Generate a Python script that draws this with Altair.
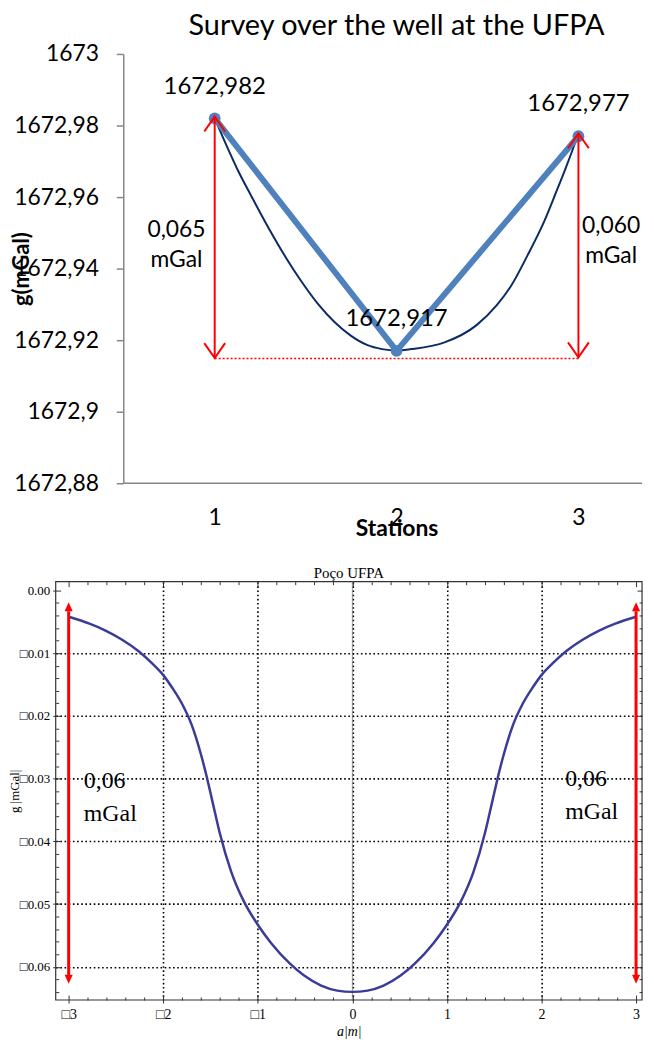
import altair as alt
import pandas as pd

# ---------------- top panel data ----------------
stations = [1, 2, 3]
g_obs = [1672.982, 1672.917, 1672.977]
g_obs_text = ["1672,982", "1672,917", "1672,977"]

fit_s = [1.00, 1.08, 1.13, 1.20, 1.30, 1.39, 1.48, 1.57, 1.66, 1.75, 1.84, 1.92, 2.00,
         2.08, 2.26, 2.44, 2.55, 2.63, 2.72, 2.81, 2.88, 2.93, 2.97, 3.00]
fit_g = [1672.9820, 1672.9727, 1672.9672, 1672.9604, 1672.9510, 1672.9432,
         1672.9362, 1672.9300, 1672.9250, 1672.9212, 1672.9186, 1672.9175,
         1672.9171, 1672.9175, 1672.9193, 1672.9242, 1672.9297, 1672.9352,
         1672.9437, 1672.9530, 1672.9617, 1672.9681, 1672.9735, 1672.9778]

top_yticks = [1672.88, 1672.90, 1672.92, 1672.94, 1672.96, 1672.98, 1673.00]
top_xdom = [0.1257, 3.3497]

arrow_s = [1, 3]
arrow_hi = [1672.9825, 1672.9778]
arrow_lo = [1672.9150, 1672.9152]
base_s = [1, 3]
base_level = [1672.9149, 1672.9149]
axis_line_s = [0.5, 3.3497]
axis_line_g = [1672.88, 1672.88]

note_s = [0.79, 0.79, 3.18, 3.18]
note_g = [1672.9509, 1672.9425, 1672.9519, 1672.9436]
note_text = ["0,065", "mGal", "0,060", "mGal"]

# ---------------- bottom panel data ----------------
curve_a = [-3.00, -2.78, -2.61, -2.43, -2.26, -2.12, -2.00, -1.91, -1.80, -1.70,
           -1.60, -1.54, -1.50, -1.45, -1.40, -1.28, -1.15, -1.00, -0.86, -0.66,
           -0.51, -0.33, -0.16, 0.00, 0.16, 0.33, 0.51, 0.66, 0.86, 1.00, 1.15,
           1.28, 1.40, 1.45, 1.50, 1.54, 1.60, 1.70, 1.80, 1.91, 2.00, 2.12, 2.26,
           2.43, 2.61, 2.78, 3.00]
curve_g = [-0.0042, -0.0053, -0.0064, -0.0079, -0.0097, -0.0116, -0.0135, -0.0154,
           -0.0181, -0.0214, -0.0262, -0.0297, -0.0323, -0.0356, -0.0388, -0.0449,
           -0.0495, -0.0533, -0.0562, -0.0595, -0.0614, -0.0630, -0.0638, -0.0640,
           -0.0638, -0.0630, -0.0614, -0.0595, -0.0562, -0.0533, -0.0495, -0.0449,
           -0.0388, -0.0356, -0.0323, -0.0297, -0.0262, -0.0214, -0.0181, -0.0154,
           -0.0135, -0.0116, -0.0097, -0.0079, -0.0064, -0.0053, -0.0042]

b_xdom = [-3.137, 3.063]
b_ydom = [-0.0653, 0.0014]

b_arrow_a = [-3, 3]
b_tip_hi = [-0.0019, -0.0019]
b_tip_lo = [-0.0627, -0.0627]
b_shaft_hi = [-0.0033, -0.0033]
b_shaft_lo = [-0.0613, -0.0613]

bnote_a = [-2.84, -2.84, 2.25, 2.25]
bnote_g = [-0.0304, -0.0356, -0.0301, -0.0353]
bnote_text = ["0,06", "mGal", "0,06", "mGal"]

grid_x = [-2, -1, 0, 1, 2]
grid_y = [-0.01, -0.02, -0.03, -0.04, -0.05, -0.06]
major_x = [-3, -2, -1, 0, 1, 2, 3]
major_y = [0.0, -0.01, -0.02, -0.03, -0.04, -0.05, -0.06]
minor_x = [round(-3 + 0.2 * i, 2) for i in range(31) if i % 5 != 0]
minor_y = [round(-0.002 * i, 3) for i in range(33) if i % 5 != 0]

# ---------------- styles ----------------
SANS = "Lato"
SERIF = "Liberation Serif"
BLUE = "#4F81BD"
NAVY = "#0B2A66"
RED = "#FF0000"
W = 590
HB = 421

# ================= TOP CHART =================
xs_t = alt.Scale(domain=top_xdom, nice=False, zero=False)
ys_t = alt.Scale(domain=[1672.88, 1673.0], nice=False, zero=False)

x_axis_t = alt.Axis(orient="bottom", values=stations, format="d", ticks=False, domain=False,
                    grid=False, labelFont=SANS, labelFontSize=23, labelColor="black",
                    labelPadding=23, title="Stations", titleFont=SANS, titleFontSize=23,
                    titleFontWeight="bold", titleColor="black", titleX=343, titleY=46,
                    titleBaseline="middle")
y_axis_t = alt.Axis(orient="left", values=top_yticks,
                    labelExpr="replace(toString(datum.value), '.', ',')",
                    offset=-68, grid=False, domainColor="#868686", domainWidth=1.5,
                    tickColor="#868686", tickWidth=1.5, tickSize=7,
                    labelFont=SANS, labelFontSize=23, labelColor="black", labelPadding=18,
                    title="g(mGal)", titleFont=SANS, titleFontSize=22, titleFontWeight="bold",
                    titleColor="black", titleX=-102, titleY=216, titleAngle=270,
                    titleBaseline="middle", titleAlign="center")

obs_df = pd.DataFrame({"s": stations, "v": g_obs, "t": g_obs_text})
fit_df = pd.DataFrame({"s": fit_s, "v": fit_g})
arr_df = pd.DataFrame({"s": arrow_s, "v": arrow_hi, "v2": arrow_lo})
base_df = pd.DataFrame({"s": base_s, "v": base_level})
axl_df = pd.DataFrame({"s": axis_line_s, "v": axis_line_g})
note_df = pd.DataFrame({"s": note_s, "v": note_g, "t": note_text})


def X_t(ax=None):
    return alt.X("s:Q", scale=xs_t, axis=ax)


def Y_t(ax=None, f="v:Q"):
    return alt.Y(f, scale=ys_t, axis=ax)


axis_rule = alt.Chart(axl_df).mark_line(color="#868686", strokeWidth=1.5).encode(
    x=X_t(x_axis_t), y=Y_t(y_axis_t))
fit_line = alt.Chart(fit_df).mark_line(color=NAVY, strokeWidth=2, interpolate="monotone").encode(
    x=X_t(), y=Y_t())
obs_line = alt.Chart(obs_df).mark_line(color=BLUE, strokeWidth=6).encode(x=X_t(), y=Y_t())
obs_pts = alt.Chart(obs_df).mark_circle(color=BLUE, size=140, opacity=1).encode(x=X_t(), y=Y_t())
base_line = alt.Chart(base_df).mark_line(color=RED, strokeWidth=1.5, strokeDash=[2, 2]).encode(
    x=X_t(), y=Y_t())
shafts = alt.Chart(arr_df).mark_rule(color=RED, strokeWidth=2).encode(
    x=X_t(), y=Y_t(), y2="v2:Q")
heads_up = alt.Chart(arr_df).mark_point(shape="M-0.7,1L0,0L0.7,1", size=900, filled=False,
                                        color=RED, strokeWidth=2, opacity=1).encode(x=X_t(), y=Y_t())
heads_dn = alt.Chart(arr_df).mark_point(shape="M-0.7,-1L0,0L0.7,-1", size=900, filled=False,
                                        color=RED, strokeWidth=2, opacity=1).encode(
    x=X_t(), y=Y_t(f="v2:Q"))
obs_txt = alt.Chart(obs_df).mark_text(font=SANS, fontSize=24, dy=-32, color="black").encode(
    x=X_t(), y=Y_t(), text="t:N")
notes = alt.Chart(note_df).mark_text(font=SANS, fontSize=23, color="black", baseline="middle").encode(
    x=X_t(), y=Y_t(), text="t:N")

top = alt.layer(axis_rule, fit_line, obs_line, obs_pts, base_line, shafts, heads_up, heads_dn,
                obs_txt, notes).resolve_axis(x="independent", y="independent").properties(
    width=W, height=432,
    title=alt.TitleParams("Survey over the well at the UFPA", font=SANS, fontSize=29,
                          fontWeight="normal", color="black", anchor="middle", dx=48, offset=2))

# ================= BOTTOM CHART =================
xs_b = alt.Scale(domain=b_xdom, nice=False, zero=False)
ys_b = alt.Scale(domain=b_ydom, nice=False, zero=False)
TICK = "#333333"


def tick_axis(orient, values, size, offset):
    return alt.Axis(orient=orient, values=values, tickSize=size, offset=offset, labels=False,
                    domain=False, grid=False, title=None, tickColor=TICK, tickWidth=1)


def grid_axis(orient, values):
    return alt.Axis(orient=orient, values=values, ticks=False, labels=False, domain=False,
                    grid=True, gridColor="black", gridWidth=1.6, gridDash=[1.6, 2.6],
                    gridOpacity=1, title=None)


x_lab_axis = alt.Axis(orient="bottom", values=major_x, tickSize=8, offset=-5, domain=False,
                      grid=False, tickColor=TICK, tickWidth=1,
                      labelExpr="datum.value < 0 ? '\u25a1' + toString(-datum.value) : toString(datum.value)",
                      labelFont=SERIF, labelFontSize=14, labelColor="black", labelPadding=5,
                      title="a|m|", titleFont=SERIF, titleFontSize=14, titleFontStyle="italic",
                      titleFontWeight="normal", titleColor="black", titlePadding=3)
y_lab_axis = alt.Axis(orient="left", values=major_y, tickSize=8, offset=-5, domain=False,
                      grid=False, tickColor=TICK, tickWidth=1,
                      labelExpr="datum.value < 0 ? '\u25a1' + format(-datum.value, '.2f') : '0.00'",
                      labelFont=SERIF, labelFontSize=13, labelColor="black", labelPadding=3,
                      title="g |mGal|", titleFont=SERIF, titleFontSize=13,
                      titleFontWeight="normal", titleColor="black", titleAngle=270,
                      titleX=-46.5, titleY=HB / 2, titleBaseline="middle", titleAlign="center")

curve_df = pd.DataFrame({"a": curve_a, "g": curve_g})
frame_df = pd.DataFrame({"a": [b_xdom[0]], "a2": [b_xdom[1]], "g": [b_ydom[0]], "g2": [b_ydom[1]]})
zero_df = pd.DataFrame({"a": [0], "g": [b_ydom[0]], "g2": [b_ydom[1]]})
barr_df = pd.DataFrame({"a": b_arrow_a, "g": b_shaft_hi, "g2": b_shaft_lo,
                        "hi": b_tip_hi, "lo": b_tip_lo})
bnote_df = pd.DataFrame({"a": bnote_a, "g": bnote_g, "t": bnote_text})


def Xb(ax=None):
    return alt.X("a:Q", scale=xs_b, axis=ax)


def Yb(f="g:Q", ax=None):
    return alt.Y(f, scale=ys_b, axis=ax)


frame = alt.Chart(frame_df).mark_rect(fill="transparent", stroke="#333333", strokeWidth=1.2).encode(
    x=Xb(x_lab_axis), x2="a2:Q", y=Yb(ax=y_lab_axis), y2="g2:Q")
zero = alt.Chart(zero_df).mark_rule(color="#777777", strokeWidth=0.8).encode(
    x=Xb(grid_axis("bottom", grid_x)), y=Yb(ax=grid_axis("left", grid_y)), y2="g2:Q")
curve = alt.Chart(curve_df).mark_line(color="#3B3B98", strokeWidth=2.5, interpolate="monotone").encode(
    x=Xb(tick_axis("top", major_x, 5, -5)), y=Yb(ax=tick_axis("right", major_y, 5, -5)))
bshaft = alt.Chart(barr_df).mark_rule(color=RED, strokeWidth=3).encode(
    x=Xb(tick_axis("top", minor_x, 3, -3)), y=Yb(ax=tick_axis("right", minor_y, 3, -3)), y2="g2:Q")
bhead_up = alt.Chart(barr_df).mark_point(shape="M-0.45,1L0,0L0.45,1Z", size=324, filled=True,
                                         color=RED, opacity=1).encode(
    x=Xb(tick_axis("bottom", minor_x, 3, -3)), y=Yb("hi:Q", tick_axis("left", minor_y, 3, -3)))
bhead_dn = alt.Chart(barr_df).mark_point(shape="M-0.45,-1L0,0L0.45,-1Z", size=324, filled=True,
                                         color=RED, opacity=1).encode(x=Xb(), y=Yb("lo:Q"))
bnotes = alt.Chart(bnote_df).mark_text(font=SERIF, fontSize=24, color="black", align="left",
                                       baseline="middle").encode(x=Xb(), y=Yb(), text="t:N")

bottom = alt.layer(frame, zero, curve, bshaft, bhead_up, bhead_dn, bnotes).resolve_axis(
    x="independent", y="independent").properties(
    width=W, height=HB,
    title=alt.TitleParams("Poço UFPA", font=SERIF, fontSize=15, fontWeight="normal",
                          color="black", anchor="middle", offset=0))

chart = alt.vconcat(top, bottom, spacing=23).properties(padding=0).configure_view(
    stroke="transparent")

chart.save("out.html", embed_options={"renderer": "svg", "actions": False})
